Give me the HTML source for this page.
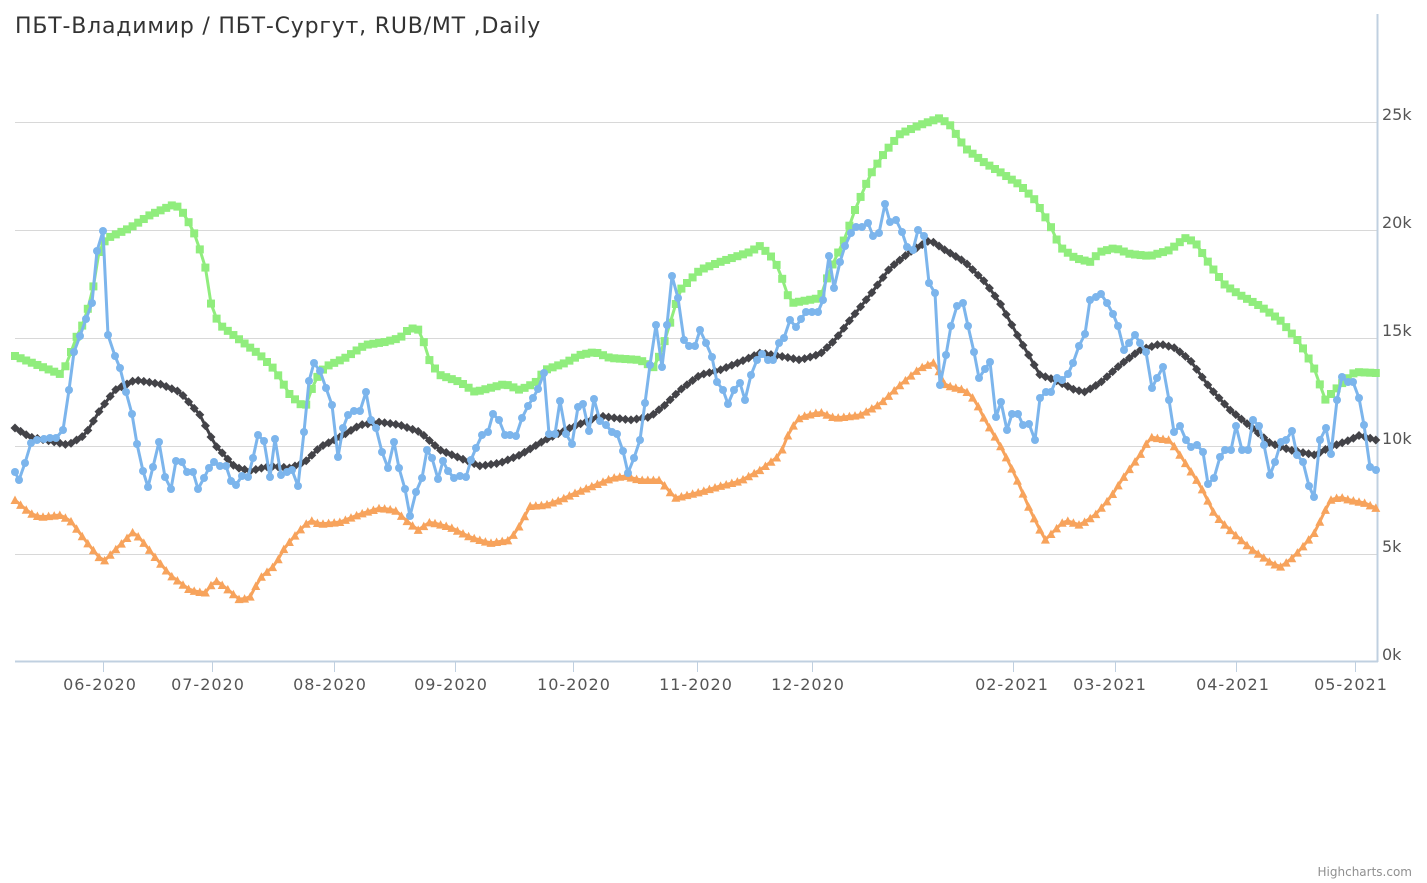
<!DOCTYPE html>
<html><head><meta charset="utf-8"><style>
html,body{margin:0;padding:0;background:#fff;width:1427px;height:883px;overflow:hidden}
svg text{font-family:"DejaVu Sans","Liberation Sans",sans-serif}
</style></head><body>
<svg id="c" width="1427" height="883" xmlns="http://www.w3.org/2000/svg">
<rect width="1427" height="883" fill="#fff"/>
<g stroke="#d8d8d8" stroke-width="1">
<line x1="15" x2="1377" y1="554.5" y2="554.5"/>
<line x1="15" x2="1377" y1="446.5" y2="446.5"/>
<line x1="15" x2="1377" y1="338.5" y2="338.5"/>
<line x1="15" x2="1377" y1="230.5" y2="230.5"/>
<line x1="15" x2="1377" y1="122.5" y2="122.5"/>
</g>
<line x1="1377.5" y1="14" x2="1377.5" y2="662" stroke="#c0d0e0" stroke-width="2"/>
<line x1="15" y1="661.5" x2="1378" y2="661.5" stroke="#c0d0e0" stroke-width="2"/>
<g stroke="#c0d0e0" stroke-width="1">
<line x1="103.5" x2="103.5" y1="662" y2="672"/><line x1="212.5" x2="212.5" y1="662" y2="672"/>
<line x1="334.5" x2="334.5" y1="662" y2="672"/><line x1="455.5" x2="455.5" y1="662" y2="672"/>
<line x1="573.5" x2="573.5" y1="662" y2="672"/><line x1="697.5" x2="697.5" y1="662" y2="672"/>
<line x1="812.5" x2="812.5" y1="662" y2="672"/><line x1="1013.5" x2="1013.5" y1="662" y2="672"/>
<line x1="1115.5" x2="1115.5" y1="662" y2="672"/><line x1="1236.5" x2="1236.5" y1="662" y2="672"/>
<line x1="1355.5" x2="1355.5" y1="662" y2="672"/>
</g>
<g font-size="16" fill="#555" text-anchor="middle" letter-spacing="1">
<text x="100" y="690">06-2020</text><text x="208" y="690">07-2020</text>
<text x="330" y="690">08-2020</text><text x="451" y="690">09-2020</text>
<text x="574" y="690">10-2020</text><text x="696" y="690">11-2020</text>
<text x="808" y="690">12-2020</text><text x="1012" y="690">02-2021</text>
<text x="1110" y="690">03-2021</text><text x="1233" y="690">04-2021</text>
<text x="1351" y="690">05-2021</text>
</g>
<g font-size="16" fill="#555">
<text x="1382" y="660">0k</text><text x="1382" y="552">5k</text>
<text x="1382" y="444">10k</text><text x="1382" y="336">15k</text>
<text x="1382" y="228">20k</text><text x="1382" y="120">25k</text>
</g>
<text x="15" y="33" font-size="22" fill="#333" letter-spacing="0.8">ПБТ-Владимир / ПБТ-Сургут, RUB/MT ,Daily</text>
<text x="1412" y="876" font-size="12" fill="#909090" text-anchor="end">Highcharts.com</text>
<g id="series"></g>
</svg>
<script>
var NS="http://www.w3.org/2000/svg",G=document.getElementById("series");
function el(t,a){var e=document.createElementNS(NS,t);for(var k in a)e.setAttribute(k,a[k]);G.appendChild(e);return e;}
function interp(k,step){var o=[];for(var x=k[0][0];x<=k[k.length-1][0]+0.01;x+=step){var i=0;while(i<k.length-2&&k[i+1][0]<x)i++;var a=k[i],b=k[i+1];var t=(x-a[0])/(b[0]-a[0]);t=Math.max(0,Math.min(1,t));o.push([x,a[1]+(b[1]-a[1])*t]);}return o;}
function line(p,c){el("polyline",{points:p.map(function(q){return q.join(",")}).join(" "),fill:"none",stroke:c,"stroke-width":3,"stroke-linejoin":"round"});}
var green=[[15,356],[35,364],[60,374],[67,364],[75,340],[85,320],[95,280],[100,245],[110,237],[130,228],[150,215],[175,204],[185,215],[195,235],[205,265],[212,310],[220,325],[240,340],[260,355],[275,370],[290,395],[305,408],[315,380],[325,367],[345,358],[365,345],[385,342],[400,338],[410,328],[420,330],[430,362],[440,375],[460,382],[475,392],[490,388],[505,384],[520,390],[535,383],[545,370],[565,363],[580,355],[595,352],[610,358],[640,360],[655,368],[665,340],[680,290],[700,270],[720,262],[750,252],[760,246],[770,255],[780,270],[785,290],[792,303],[820,298],[830,270],[845,238],[855,210],[870,175],[885,152],[900,134],[920,125],[940,118],[950,125],[965,148],[985,163],[1000,172],[1020,185],[1035,200],[1050,225],[1060,247],[1075,258],[1090,262],[1100,252],[1115,248],[1130,254],[1150,256],[1170,250],[1185,238],[1195,242],[1210,265],[1225,285],[1240,295],[1260,306],[1280,320],[1300,343],[1315,370],[1325,400],[1340,385],[1355,372],[1376,373]];
var orange=[[15,500],[30,513],[40,517],[60,515],[70,520],[85,540],[103,562],[120,545],[133,532],[140,538],[155,557],[170,575],[190,590],[205,593],[215,580],[225,587],[240,600],[250,597],[260,578],[275,565],[285,547],[300,530],[310,520],[320,524],[340,522],[360,514],[380,508],[395,510],[408,522],[418,530],[430,522],[450,527],[470,537],[490,543],[510,540],[520,525],[530,506],[545,505],[560,500],[575,493],[595,485],[612,478],[625,476],[640,480],[660,480],[675,498],[700,492],[720,486],[740,481],[760,470],[780,455],[790,430],[800,417],[820,412],[835,418],[860,415],[880,404],[900,385],[920,368],[935,362],[945,385],[965,390],[975,400],[985,420],[1000,445],[1015,475],[1030,510],[1045,540],[1052,533],[1065,520],[1080,525],[1095,515],[1110,498],[1125,475],[1140,455],[1150,437],[1170,440],[1180,455],[1200,485],[1215,515],[1230,530],[1250,548],[1270,562],[1280,567],[1290,560],[1300,550],[1315,532],[1330,500],[1340,497],[1350,500],[1365,503],[1376,508]];
var black=[[15,428],[30,437],[50,441],[68,445],[85,435],[100,410],[115,390],[135,380],[160,384],[180,392],[200,415],[215,445],[235,467],[250,471],[270,466],[290,468],[305,462],[320,447],[340,437],[360,425],[380,422],[400,425],[420,432],[440,450],[460,458],[480,466],[500,463],[520,455],[545,440],[570,428],[600,416],[630,420],[650,417],[665,405],[680,390],[700,375],[720,370],[740,362],[760,353],[780,356],[800,360],[820,354],[835,340],[850,320],[870,295],[890,268],[910,252],[930,240],[945,250],[965,262],[985,282],[1000,303],[1020,340],[1040,375],[1055,380],[1075,390],[1085,392],[1100,383],[1120,365],[1140,350],[1160,344],[1175,348],[1190,360],[1210,388],[1230,410],[1250,426],[1270,443],[1290,450],[1315,455],[1330,447],[1350,440],[1360,435],[1376,440]];
var blue=[[15,472],[19,480],[25,463],[31,443],[37,440],[44,439],[50,438],[56,438],[63,430],[69,390],[74,352],[80,336],[86,319],[92,303],[97,251],[103,231],[108,335],[115,356],[120,368],[126,392],[132,414],[137,444],[143,471],[148,487],[153,467],[159,442],[165,477],[171,489],[176,461],[182,462],[187,472],[193,472],[198,489],[204,478],[209,468],[214,462],[220,466],[226,466],[231,481],[236,485],[242,476],[248,477],[253,458],[258,435],[264,441],[270,477],[275,439],[281,475],[287,472],[292,470],[298,486],[304,432],[309,381],[314,363],[320,371],[326,388],[332,405],[338,457],[343,428],[348,415],[354,411],[360,411],[366,392],[371,420],[376,428],[382,452],[388,468],[394,442],[399,468],[405,489],[410,516],[416,492],[422,478],[427,450],[432,458],[438,479],[443,461],[448,471],[454,478],[460,476],[466,477],[471,460],[476,448],[482,435],[488,432],[493,414],[499,420],[505,435],[510,435],[516,436],[522,418],[528,406],[533,398],[538,389],[544,373],[549,434],[555,434],[560,401],[566,434],[572,444],[578,407],[583,404],[589,431],[594,399],[600,421],[606,425],[612,432],[617,434],[623,451],[628,473],[634,458],[640,440],[645,403],[650,365],[656,325],[662,367],[667,325],[672,276],[678,298],[684,340],[689,346],[695,346],[700,330],[706,343],[712,357],[717,382],[723,390],[728,404],[734,390],[740,383],[745,400],[751,375],[757,360],[762,354],[768,360],[773,360],[779,343],[784,338],[790,320],[796,327],[801,319],[806,312],[812,312],[818,312],[823,300],[829,256],[834,288],[840,262],[845,246],[851,233],[856,227],[862,227],[868,223],[873,236],[879,233],[885,204],[890,222],[896,220],[902,232],[907,247],[913,250],[918,230],[924,236],[929,283],[935,293],[940,385],[946,355],[951,326],[957,306],[963,303],[968,326],[974,352],[979,378],[985,369],[990,362],[996,417],[1001,402],[1007,430],[1012,414],[1018,414],[1023,425],[1029,424],[1035,440],[1040,398],[1046,392],[1051,392],[1057,378],[1062,380],[1068,374],[1073,363],[1079,346],[1085,334],[1090,300],[1096,297],[1101,294],[1107,303],[1113,314],[1118,326],[1124,350],[1129,343],[1135,335],[1140,343],[1146,352],[1152,388],[1157,378],[1163,367],[1169,400],[1174,432],[1180,426],[1186,440],[1191,447],[1197,445],[1203,452],[1208,484],[1214,478],[1220,457],[1225,450],[1231,450],[1236,426],[1242,450],[1248,450],[1253,420],[1259,426],[1264,445],[1270,475],[1275,462],[1281,442],[1286,440],[1292,431],[1297,455],[1303,462],[1309,486],[1314,497],[1320,440],[1326,428],[1331,454],[1337,400],[1342,377],[1348,382],[1353,382],[1359,398],[1364,425],[1370,467],[1376,470]];
var gp=interp(green,5.6);line(gp,"#90ed7d");
gp.forEach(function(p){el("rect",{x:p[0]-4,y:p[1]-4,width:8,height:8,fill:"#90ed7d"});});
var op=interp(orange,5.6);line(op,"#f7a35c");
op.forEach(function(p){el("polygon",{points:(p[0])+","+(p[1]-4.5)+" "+(p[0]+4.5)+","+(p[1]+4)+" "+(p[0]-4.5)+","+(p[1]+4),fill:"#f7a35c"});});
var bp=interp(black,5.6);line(bp,"#434348");
bp.forEach(function(p){el("polygon",{points:p[0]+","+(p[1]-4.5)+" "+(p[0]+4.5)+","+p[1]+" "+p[0]+","+(p[1]+4.5)+" "+(p[0]-4.5)+","+p[1],fill:"#434348"});});
line(blue,"#7cb5ec");
blue.forEach(function(p){el("circle",{cx:p[0],cy:p[1],r:4,fill:"#7cb5ec"});});
</script>
</body></html>
